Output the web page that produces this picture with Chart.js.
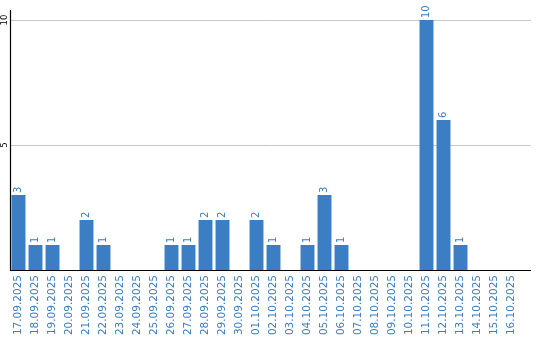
<!DOCTYPE html>
<html>
<head>
<meta charset="utf-8">
<script src="https://cdn.jsdelivr.net/npm/chart.js@4.4.1/dist/chart.umd.min.js"></script>
<style>
html,body{margin:0;padding:0;background:#fff;}
#wrap{width:540px;height:340px;position:relative;}
</style>
</head>
<body>
<div id="wrap"><canvas id="c"></canvas></div>
<script>
const categories = ["17.09.2025","18.09.2025","19.09.2025","20.09.2025","21.09.2025","22.09.2025","23.09.2025","24.09.2025","25.09.2025","26.09.2025","27.09.2025","28.09.2025","29.09.2025","30.09.2025","01.10.2025","02.10.2025","03.10.2025","04.10.2025","05.10.2025","06.10.2025","07.10.2025","08.10.2025","09.10.2025","10.10.2025","11.10.2025","12.10.2025","13.10.2025","14.10.2025","15.10.2025","16.10.2025"];
const values = [3,1,1,0,2,1,0,0,0,1,1,2,2,0,2,1,0,1,3,1,0,0,0,0,10,6,1,0,0,0];
const yTicks = [0,5,10];

const BLUE = '#3b7ec4';
const FONT = '"DejaVu Sans", sans-serif';
const EXT = 11;

const customDraw = {
  id: 'customDraw',
  beforeDatasetsDraw(chart) {
    const ctx = chart.ctx, a = chart.chartArea, y = chart.scales.y;
    ctx.save();
    ctx.strokeStyle = '#c8c8c8';
    ctx.lineWidth = 1;
    yTicks.forEach(v => {
      if (v === 0) return;
      const py = Math.round(y.getPixelForValue(v)) + 0.5;
      ctx.beginPath(); ctx.moveTo(a.left, py); ctx.lineTo(a.right + EXT, py); ctx.stroke();
    });
    ctx.restore();
  },
  afterDatasetsDraw(chart) {
    const ctx = chart.ctx, a = chart.chartArea, y = chart.scales.y;
    ctx.save();
    ctx.strokeStyle = '#000'; ctx.lineWidth = 1.2;
    const by = Math.round(y.getPixelForValue(0)) + 0.5;
    ctx.beginPath(); ctx.moveTo(a.left, by); ctx.lineTo(a.right + EXT, by); ctx.stroke();
    const lx = Math.round(a.left) + 0.5;
    ctx.beginPath(); ctx.moveTo(lx, a.top); ctx.lineTo(lx, by + 0.5); ctx.stroke();
    // y tick labels rotated
    ctx.fillStyle = '#000';
    ctx.font = '8.5px ' + FONT;
    ctx.textAlign = 'center'; ctx.textBaseline = 'middle';
    yTicks.forEach(v => {
      if (v === 0) return;
      const py = y.getPixelForValue(v);
      ctx.save(); ctx.translate(5, py); ctx.rotate(-Math.PI / 2); ctx.fillText(String(v), 0, 0); ctx.restore();
    });
    // data labels
    const meta = chart.getDatasetMeta(0);
    ctx.fillStyle = BLUE;
    ctx.font = '10px ' + FONT;
    ctx.textAlign = 'left'; ctx.textBaseline = 'middle';
    meta.data.forEach((bar, i) => {
      const v = values[i];
      if (!v) return;
      ctx.save(); ctx.translate(bar.x, bar.y - 2); ctx.rotate(-Math.PI / 2); ctx.fillText(String(v), 0, 0); ctx.restore();
    });
    ctx.restore();
  }
};

new Chart(document.getElementById('c'), {
  type: 'bar',
  data: {
    labels: categories,
    datasets: [{
      data: values,
      backgroundColor: BLUE,
      borderWidth: 0,
      barPercentage: 0.82,
      categoryPercentage: 1.0
    }]
  },
  options: {
    responsive: true,
    maintainAspectRatio: false,
    animation: false,
    layout: { padding: { left: 0, right: 20, top: 10, bottom: 0 } },
    plugins: { legend: { display: false }, tooltip: { enabled: false } },
    scales: {
      x: {
        grid: { display: false, drawTicks: false },
        border: { display: false },
        ticks: {
          color: BLUE,
          font: { family: FONT, size: 10.5 },
          minRotation: 90, maxRotation: 90,
          autoSkip: false,
          padding: 5
        },
        afterFit(scale) { scale.height = 70; }
      },
      y: {
        min: 0, max: 10.4,
        grid: { display: false },
        border: { display: false },
        ticks: { display: false },
        afterBuildTicks(scale) { scale.ticks = yTicks.map(v => ({ value: v })); },
        afterFit(scale) { scale.width = 10; }
      }
    }
  },
  plugins: [customDraw]
});
</script>
</body>
</html>
